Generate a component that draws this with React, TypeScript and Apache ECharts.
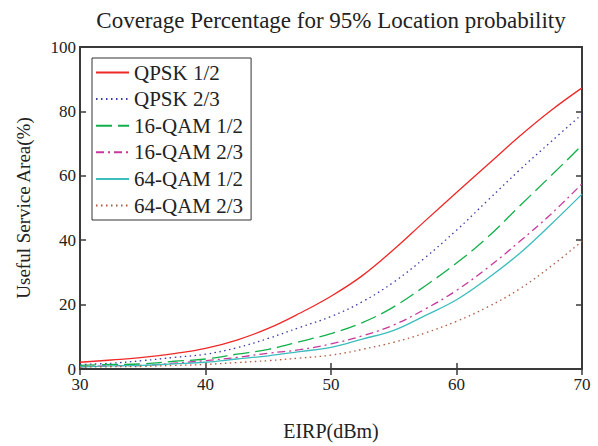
import React, { useEffect, useRef } from "react";
import * as echarts from "echarts";

const eirp = [30, 32.5, 35, 37.5, 40, 42.5, 45, 47.5, 50, 52.5, 55, 57.5, 60, 62.5, 65, 67.5, 70];
const qpsk12 = [2.1, 2.8, 3.6, 4.8, 6.4, 9.0, 12.6, 17.3, 22.6, 29.0, 37.1, 46.0, 54.8, 63.5, 72.2, 80.2, 87.3];
const qpsk23 = [1.4, 1.8, 2.6, 3.6, 4.6, 6.6, 9.5, 12.9, 16.3, 20.9, 27.0, 34.6, 43.1, 52.4, 61.7, 70.5, 79.1];
const qam16_12 = [1.1, 1.4, 1.6, 2.4, 3.1, 4.6, 6.1, 8.5, 11.0, 14.4, 19.3, 25.8, 32.9, 41.0, 50.5, 59.9, 69.5];
const qam16_23 = [0.7, 1.0, 1.1, 1.8, 2.6, 3.6, 4.9, 6.0, 7.8, 10.3, 13.7, 18.6, 24.4, 31.5, 39.5, 48.0, 57.5];
const qam64_12 = [0.7, 1.0, 1.1, 1.6, 2.1, 3.1, 4.1, 5.4, 6.7, 9.3, 12.0, 16.6, 21.5, 28.2, 35.8, 44.8, 54.3];
const qam64_23 = [0.6, 0.7, 0.8, 1.1, 1.4, 2.0, 2.6, 3.4, 4.3, 6.1, 8.3, 11.2, 14.8, 19.3, 24.8, 31.8, 39.7];

const seriesNames = ["QPSK 1/2", "QPSK 2/3", "16-QAM 1/2", "16-QAM 2/3", "64-QAM 1/2", "64-QAM 2/3"];
const seriesValues = [qpsk12, qpsk23, qam16_12, qam16_23, qam64_12, qam64_23];
const seriesColors = ["#f02828", "#3a3aa8", "#12b04a", "#c8389c", "#3cbcbc", "#b05a3c"];
const seriesDash: any[] = ["solid", [1.5, 3.5], [16, 6], [8, 4, 2, 4], "solid", [1.5, 3.5]];

const FONT = "'Liberation Serif', 'DejaVu Serif', serif";

export default function App() {
  const ref = useRef<HTMLDivElement>(null);
  useEffect(() => {
    if (!ref.current) return;
    const chart = echarts.init(ref.current, undefined, { renderer: "svg" });
    const axisColor = "#3a3a3a";
    chart.setOption({
      animation: false,
      backgroundColor: "#ffffff",
      textStyle: { fontFamily: FONT },
      title: {
        text: "Coverage Percentage for 95% Location probability",
        left: 326,
        top: 4,
        textAlign: "center",
        textStyle: { fontFamily: FONT, fontSize: 23, fontWeight: "normal", color: "#222" },
      },
      grid: { left: 80, right: 16, top: 47, bottom: 61, show: true, borderColor: axisColor, borderWidth: 2 },
      legend: {
        orient: "vertical",
        left: 92,
        top: 58,
        data: seriesNames,
        borderColor: "#333",
        borderWidth: 1,
        backgroundColor: "#fff",
        padding: [4, 8, 4, 3],
        itemWidth: 33,
        itemHeight: 10,
        itemGap: 5.6,
        itemStyle: { opacity: 0 },
        textStyle: { fontFamily: FONT, fontSize: 21, color: "#222", lineHeight: 20 },
      },
      xAxis: [
        {
          type: "value",
          min: 30,
          max: 70,
          interval: 10,
          name: "EIRP(dBm)",
          nameLocation: "middle",
          nameGap: 52,
          nameTextStyle: { fontFamily: FONT, fontSize: 20, color: "#222" },
          axisLine: { show: true, lineStyle: { color: axisColor, width: 2 } },
          axisTick: { show: true, inside: true, length: 6, lineStyle: { color: axisColor, width: 1.5 } },
          axisLabel: { fontFamily: FONT, fontSize: 17, color: "#222", margin: 7 },
          splitLine: { show: false },
        },
        {
          type: "value",
          position: "top",
          min: 30,
          max: 70,
          interval: 10,
          axisLine: { show: true, lineStyle: { color: axisColor, width: 2 } },
          axisTick: { show: true, inside: true, length: 6, lineStyle: { color: axisColor, width: 1.5 } },
          axisLabel: { show: false },
          splitLine: { show: false },
        },
      ],
      yAxis: [
        {
          type: "value",
          min: 0,
          max: 100,
          interval: 20,
          name: "Useful Service Area(%)",
          nameLocation: "middle",
          nameGap: 47,
          nameTextStyle: { fontFamily: FONT, fontSize: 19, color: "#222" },
          axisLine: { show: true, lineStyle: { color: axisColor, width: 2 } },
          axisTick: { show: true, inside: true, length: 6, lineStyle: { color: axisColor, width: 1.5 } },
          axisLabel: { fontFamily: FONT, fontSize: 17, color: "#222", margin: 4 },
          splitLine: { show: false },
        },
        {
          type: "value",
          position: "right",
          min: 0,
          max: 100,
          interval: 20,
          axisLine: { show: true, lineStyle: { color: axisColor, width: 2 } },
          axisTick: { show: true, inside: true, length: 6, lineStyle: { color: axisColor, width: 1.5 } },
          axisLabel: { show: false },
          splitLine: { show: false },
        },
      ],
      series: seriesNames.map((name, i) => ({
        name,
        type: "line",
        xAxisIndex: 0,
        yAxisIndex: 0,
        smooth: 0.4,
        symbol: "none",
        showSymbol: false,
        color: seriesColors[i],
        lineStyle: { color: seriesColors[i], width: 1.3, type: seriesDash[i] },
        data: eirp.map((x, j) => [x, seriesValues[i][j]]),
      })),
    });
    return () => chart.dispose();
  }, []);
  return <div ref={ref} style={{ width: 598, height: 446, position: "absolute", left: 0, top: 0 }} />;
}
